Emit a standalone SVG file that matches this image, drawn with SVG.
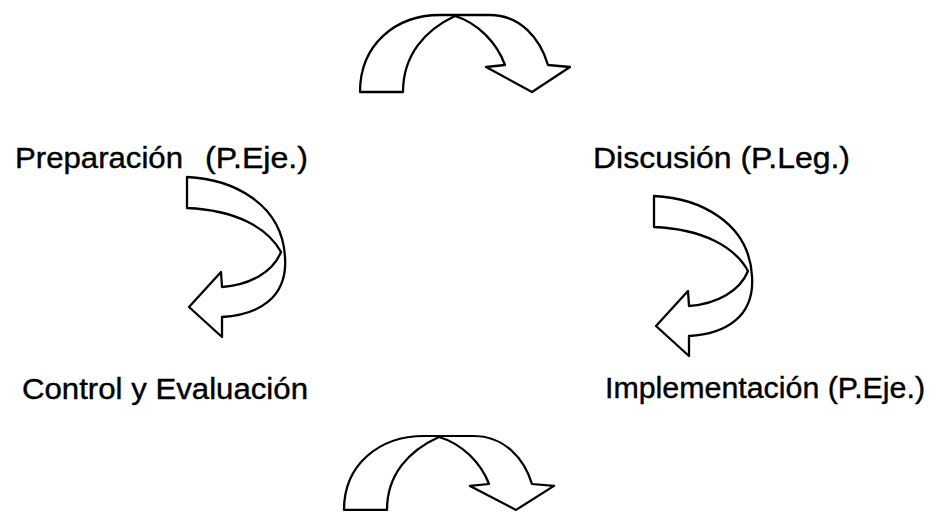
<svg xmlns="http://www.w3.org/2000/svg" xmlns:xlink="http://www.w3.org/1999/xlink" width="936" height="512" viewBox="0 0 936 512">
<style>
.lbl{font-family:"Liberation Sans",Arial,sans-serif;font-size:30px;fill:#000;stroke:#000;stroke-width:0.4}
.arr{fill:#fff;stroke:#000;stroke-width:2.3;stroke-linejoin:round}
</style>
<defs>
<path id="overArrow" d="M360,92 C360,45 395,15 440,15 L490,15 C520,15 540,38 548,65 L570,67 L532,92 L486,67 L505,65 C497,43 478,23 455,16 C425,30 403,55 403,92 Z"/>
<path id="sideArrow" d="M187,177 C232,179 282,203 285,257 C288,298 258,315 222,317 L222,337 L189,307 L221,272 L222,287 C250,285 273,272 281,252 C268,228 236,210 187,208 Z"/>
</defs>
<rect width="936" height="512" fill="#fff"/>
<g id="connectors">
<use xlink:href="#overArrow" class="arr"/>
<use xlink:href="#sideArrow" class="arr"/>
<use xlink:href="#sideArrow" class="arr" transform="translate(467,19)"/>
<use xlink:href="#overArrow" class="arr" transform="translate(-16,421.6) scale(1,0.96)"/>
</g>
<g id="preparacion">
<text class="lbl" y="168"><tspan x="15" textLength="168" lengthAdjust="spacingAndGlyphs">Preparación</tspan><tspan x="205" textLength="103" lengthAdjust="spacingAndGlyphs">(P.Eje.)</tspan></text>
</g>
<g id="discusion">
<text class="lbl" x="593" y="168" textLength="257" lengthAdjust="spacingAndGlyphs">Discusión (P.Leg.)</text>
</g>
<g id="control">
<text class="lbl" x="22" y="399" textLength="286" lengthAdjust="spacingAndGlyphs">Control y Evaluación</text>
</g>
<g id="implementacion">
<text class="lbl" x="605" y="398" textLength="320" lengthAdjust="spacingAndGlyphs">Implementación (P.Eje.)</text>
</g>
</svg>
